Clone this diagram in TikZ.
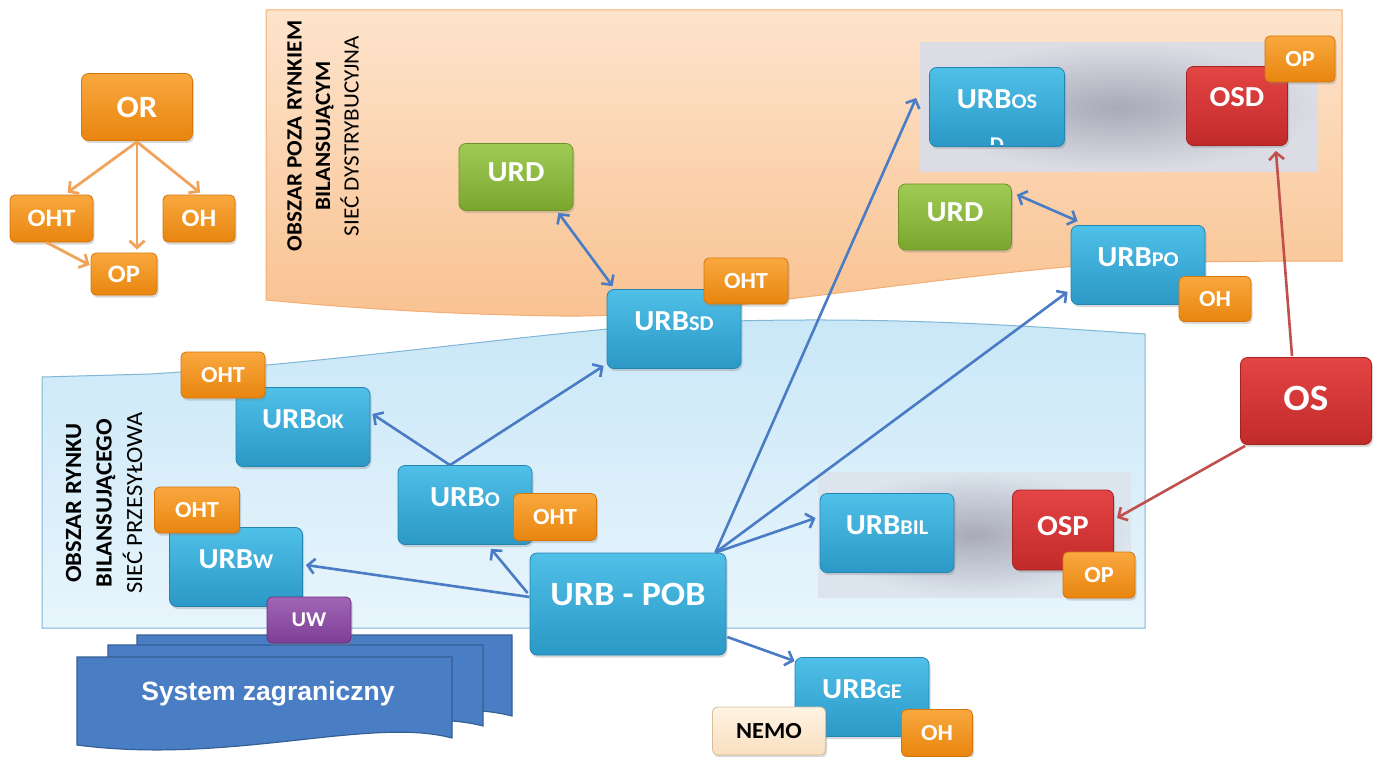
\documentclass[tikz,border=0pt]{standalone}
\usepackage{fontspec}
\setmainfont{Carlito}[FakeStretch=1.06]
\newfontfamily\sysfont{Liberation Sans}
\usetikzlibrary{shadows,calc,arrows.meta}
\definecolor{bxT}{HTML}{4FC0E8}
\definecolor{bxB}{HTML}{2B98C6}
\definecolor{bxD}{HTML}{2585B2}
\definecolor{orT}{HTML}{F9A83F}
\definecolor{orB}{HTML}{E8850E}
\definecolor{orD}{HTML}{D5760A}
\definecolor{grT}{HTML}{9FCB55}
\definecolor{grB}{HTML}{7BA62E}
\definecolor{grD}{HTML}{6A9226}
\definecolor{rdT}{HTML}{E44444}
\definecolor{rdB}{HTML}{C22A2A}
\definecolor{rdD}{HTML}{A52222}
\definecolor{puT}{HTML}{A066B5}
\definecolor{puB}{HTML}{7E3E96}
\definecolor{puD}{HTML}{6B3080}
\definecolor{crT}{HTML}{FFF3E3}
\definecolor{crB}{HTML}{F9DFC0}
\definecolor{crD}{HTML}{D9BC98}
\definecolor{pchT}{HTML}{FDE4CC}
\definecolor{pchB}{HTML}{F9C291}
\definecolor{pchD}{HTML}{F2AE74}
\definecolor{lbT}{HTML}{C9E7F7}
\definecolor{lbB}{HTML}{E8F5FC}
\definecolor{lbD}{HTML}{7FB6D6}
\definecolor{arB}{HTML}{4A7CC6}
\definecolor{arR}{HTML}{C0504D}
\definecolor{arO}{HTML}{F2A35A}
\definecolor{docF}{HTML}{4A7EC4}
\definecolor{docD}{HTML}{365F96}
\definecolor{gyC}{HTML}{A9AAB9}
\definecolor{gyO}{HTML}{DCDDE4}
\definecolor{gyO2}{HTML}{DCE5EE}
\newcommand{\urbs}[1]{{\fontsize{21}{21}\selectfont #1}}
\begin{document}
\begin{tikzpicture}[x=1pt,y=-1pt,
  base/.style={rounded corners=7pt, line width=0.8pt, text=white, inner sep=0pt,
    font=\bfseries\fontsize{29}{29}\selectfont,
    drop shadow={opacity=0.3, shadow xshift=1.5pt, shadow yshift=-2.5pt}},
  bluebox/.style={base, draw=bxD, top color=bxT, bottom color=bxB,
    minimum width=134pt, minimum height=79pt, text depth=16pt},
  greenbox/.style={base, draw=grD, top color=grT, bottom color=grB,
    minimum width=114pt, minimum height=67pt, text depth=10pt},
  redbox/.style={base, draw=rdD, top color=rdT, bottom color=rdB,
    minimum width=101pt, minimum height=80pt},
  orbox/.style={base, rounded corners=5pt, draw=orD, top color=orT, bottom color=orB,
    minimum width=84pt, minimum height=46pt, font=\bfseries\fontsize{23}{23}\selectfont},
  pubox/.style={orbox, draw=puD, top color=puT, bottom color=puB},
  crbox/.style={orbox, draw=crD, top color=crT, bottom color=crB, text=black,
    font=\bfseries\fontsize{23}{23}\selectfont},
  blarrow/.style={draw=arB, line width=2.6pt, -{Straight Barb[length=7pt,width=15pt]}},
  bldouble/.style={draw=arB, line width=2.6pt, {Straight Barb[length=7pt,width=15pt]}-{Straight Barb[length=7pt,width=15pt]}},
  rdarrow/.style={draw=arR, line width=2.6pt, -{Straight Barb[length=7pt,width=15pt]}},
  orarrow/.style={draw=arO, line width=2.8pt, -{Straight Barb[length=7pt,width=15pt]}},
  bandlbl/.style={rotate=90, align=center, text=black, inner sep=0pt}
]
\useasboundingbox (0,0) rectangle (1374,757);
\fill[white] (0,0) rectangle (1374,757);

% bands
\path[draw=pchD, line width=1pt, top color=pchT, bottom color=pchB]
  (266,10) -- (1342,10) -- (1342,261)
  .. controls (1250,261) and (1150,262) .. (1100,264)
  .. controls (900,280) and (700,318) .. (560,316)
  .. controls (420,314) and (320,305) .. (266,300) -- cycle;
\path[draw=lbD, line width=1pt, top color=lbT, bottom color=lbB]
  (42,377) -- (150,374)
  .. controls (350,362) and (550,330) .. (700,322)
  .. controls (900,315) and (1050,328) .. (1145,334)
  -- (1145,628) -- (42,628) -- cycle;

% grey areas
\path[inner color=gyC, outer color=gyO] (920,43) rectangle (1318,172);
\path[inner color=gyC, outer color=gyO2] (818,472) rectangle (1131,597);

% band labels
\node[bandlbl, font=\fontsize{21.8}{28.5}\selectfont] (lblpoza) at (323,136)
  {\textbf{OBSZAR POZA RYNKIEM}\\\textbf{BILANSUJĄCYM}\\SIEĆ DYSTRYBUCYJNA};
\node[bandlbl, font=\fontsize{23.2}{30.5}\selectfont] (lblrynku) at (104,503)
  {\textbf{OBSZAR RYNKU}\\\textbf{BILANSUJĄCEGO}\\SIEĆ PRZESYŁOWA};

% foreign system (stacked documents)
\foreach \dx/\dy in {60/-22, 31/-12, 0/0}{
  \begin{scope}[shift={(\dx,\dy)}]
    \path[draw=docD, line width=1.2pt, fill=docF]
      (77,657) -- (452,657) -- (452,738)
      .. controls (370,716) and (230,765) .. (77,745) -- cycle;
  \end{scope}
}
\node[font=\sysfont\bfseries\fontsize{26.5}{26.5}\selectfont, text=white] (sysz) at (268,694) {System zagraniczny};

% legend
\node[base, draw=orD, top color=orT, bottom color=orB, minimum width=111pt, minimum height=67pt,
  font=\bfseries\fontsize{31}{31}\selectfont] (lOR) at (137,107) {OR};
\node[orbox, minimum width=83pt, minimum height=47pt, font=\bfseries\fontsize{25}{25}\selectfont] (lOHT) at (51.5,218.5) {OHT};
\node[orbox, minimum width=72pt, minimum height=47pt, font=\bfseries\fontsize{25}{25}\selectfont] (lOH) at (199,218.5) {OH};
\node[orbox, minimum width=66pt, minimum height=42pt, font=\bfseries\fontsize{25}{25}\selectfont] (lOP) at (124,274) {OP};
\draw[orarrow] ($(lOR.south)+(0,1)$) -- ($(lOHT.north)+(16,-2)$);
\draw[orarrow] ($(lOR.south)+(0,1)$) -- ($(lOP.north)+(13,-3)$);
\draw[orarrow] ($(lOR.south)+(0,1)$) -- ($(lOH.north)+(1,-2)$);
\draw[orarrow] ($(lOHT.south)+(-5,0)$) -- ($(lOP.west)+(-1,-9)$);

% main boxes
\node[greenbox] (urd1) at (516,177) {URD};
\node[greenbox, minimum width=113pt, minimum height=66pt] (urd2) at (955,217) {URD};
\node[bluebox] (urbsd) at (674,329) {URB\urbs{SD}};
\node[bluebox] (urbpo) at (1138,265) {URB\urbs{PO}};
\node[bluebox, minimum width=135pt] (urbos) at (997,107) {URB\urbs{OS}};
\begin{scope}
  \clip[rounded corners=7pt] ($(urbos.north west)+(1,1)$) rectangle ($(urbos.south east)+(-1,-2)$);
  \node[anchor=base, text=white, inner sep=0pt, font=\bfseries\fontsize{21}{21}\selectfont] (urbosD) at ($(urbos.south)+(0,5)$) {D};
\end{scope}
\node[redbox, minimum height=79pt, text depth=18pt] (osd) at (1237,106) {OSD};
\node[redbox, minimum width=131pt, minimum height=87pt, text depth=6pt,
  font=\bfseries\fontsize{37}{37}\selectfont] (os) at (1306,401) {OS};
\node[bluebox] (urbok) at (303,427) {URB\urbs{OK}};
\node[bluebox] (urbo) at (465,505) {URB\urbs{O}};
\node[bluebox, minimum width=133pt] (urbw) at (236,567) {URB\urbs{W}};
\node[bluebox, minimum width=196pt, minimum height=102pt, text depth=20pt,
  font=\bfseries\fontsize{34}{34}\selectfont] (pob) at (628,604) {URB - POB};
\node[bluebox] (urbbil) at (887,533) {URB\urbs{BIL}};
\node[redbox, text depth=8pt] (osp) at (1063,530) {OSP};
\node[bluebox] (urbge) at (862,697) {URB\urbs{GE}};

% badges
\node[orbox] (bsd) at (746,281) {OHT};
\node[orbox, minimum width=72pt, minimum height=45pt] (bpo) at (1215,299) {OH};
\node[orbox, minimum width=70pt] (bosd) at (1300,59) {OP};
\node[orbox] (bok) at (223,375) {OHT};
\node[orbox, minimum width=83pt, minimum height=47pt] (bo) at (555,517) {OHT};
\node[orbox, minimum width=85pt] (bw) at (197,510) {OHT};
\node[pubox, font=\bfseries\fontsize{21}{21}\selectfont] (buw) at (309,620) {UW};
\node[orbox, minimum width=72pt] (bosp) at (1099,575) {OP};
\node[crbox, minimum width=113pt, minimum height=48pt] (nemo) at (769,731) {NEMO};
\node[orbox, minimum width=71pt, minimum height=47pt] (bge) at (937,733) {OH};

% connectors
\draw[bldouble] ($(urd1.south east)+(-15,2)$) -- ($(urbsd.north west)+(6,-3)$);
\draw[bldouble] ($(urd2.north east)+(5,11)$) -- ($(urbpo.north west)+(7,-4)$);
\draw[blarrow] ($(urbo.north)+(-15,0)$) -- ($(urbok.east)+(2,-13)$);
\draw[blarrow] ($(urbo.north)+(-15,0)$) -- ($(urbsd.south west)+(-3,-3)$);
\draw[blarrow] ($(pob.west)+(0,-7)$) -- ($(urbw.east)+(3,-2)$);
\draw[blarrow] ($(pob.west)+(-2,-11)$) -- ($(urbo.south)+(26,4)$);
\draw[blarrow] ($(pob.north east)+(-11,0)$) -- ($(urbos.west)+(-13,-9)$);
\draw[blarrow] ($(pob.north east)+(-11,0)$) -- ($(urbpo.south west)+(-3,-13)$);
\draw[blarrow] ($(pob.north east)+(-11,0)$) -- ($(urbbil.west)+(-4,-15)$);
\draw[blarrow] ($(pob.east)+(1,33)$) -- ($(urbge.north west)+(0,4)$);
\draw[rdarrow] ($(os.north)+(-14,-1)$) -- ($(osd.south east)+(-12,5)$);
\draw[rdarrow] ($(os.south west)+(5,1)$) -- ($(osp.east)+(3,-12)$);
\end{tikzpicture}
\end{document}
